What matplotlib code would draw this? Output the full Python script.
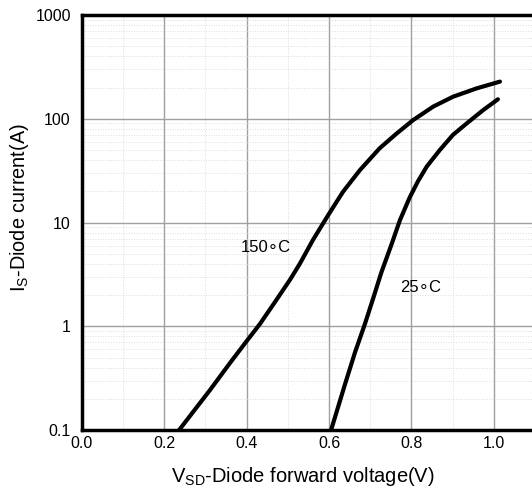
import matplotlib
matplotlib.use("Agg")
import matplotlib.pyplot as plt
from matplotlib.ticker import FixedLocator, MultipleLocator, LogLocator, NullFormatter

plt.rcParams['font.family'] = ['Liberation Sans', 'DejaVu Sans']
plt.rcParams['mathtext.fontset'] = 'custom'
plt.rcParams['mathtext.rm'] = 'Liberation Sans'
plt.rcParams['mathtext.it'] = 'Liberation Sans'

# 150 C curve (V, A)
v_150 = [0.236, 0.311, 0.359, 0.400, 0.432, 0.472, 0.505, 0.529, 0.561, 0.598,
         0.634, 0.675, 0.723, 0.764, 0.804, 0.853, 0.901, 0.958, 1.015]
i_150 = [0.1, 0.243, 0.44, 0.72, 1.05, 1.79, 2.8, 4.0, 6.8, 11.8,
         19.8, 32.0, 52.0, 72.0, 97.0, 131.0, 163.0, 196.0, 228.0]
# 25 C curve
v_25 = [0.605, 0.638, 0.663, 0.687, 0.707, 0.727, 0.752, 0.772, 0.796, 0.816,
        0.837, 0.869, 0.901, 0.934, 0.974, 1.010]
i_25 = [0.1, 0.27, 0.56, 1.05, 1.85, 3.3, 6.2, 10.5, 17.5, 25.0,
        34.5, 50.0, 70.0, 90.0, 121.0, 154.0]

x_ticks = [0.0, 0.2, 0.4, 0.6, 0.8, 1.0]
y_ticks = [0.1, 1, 10, 100, 1000]
y_labels = ['0.1', '1', '10', '100', '1000']


def main():
    fig = plt.figure(figsize=(5.32, 4.90), dpi=100)
    ax = fig.add_axes([0.154, 0.1224, 0.929, 0.847])

    for v, i in [(v_150, i_150), (v_25, i_25)]:
        ax.plot(v, i, color='black', lw=3, solid_capstyle='round', solid_joinstyle='round')

    ax.set_yscale('log')
    ax.set_xlim(0, 1.2)
    ax.set_ylim(0.1, 1000)

    ax.xaxis.set_major_locator(FixedLocator(x_ticks))
    ax.set_xticklabels([f"{x:.1f}" for x in x_ticks])
    ax.xaxis.set_minor_locator(MultipleLocator(0.1))
    ax.yaxis.set_major_locator(FixedLocator(y_ticks))
    ax.set_yticklabels(y_labels)
    ax.yaxis.set_minor_locator(LogLocator(base=10, subs=range(2, 10)))
    ax.yaxis.set_minor_formatter(NullFormatter())

    ax.tick_params(which='both', length=0, labelsize=11.5)
    ax.tick_params(axis='x', pad=4)
    ax.tick_params(axis='y', pad=8)

    ax.grid(which='major', color='#a0a0a0', lw=1)
    ax.grid(which='minor', color='#dcdcdc', lw=0.7, ls=':')
    ax.set_axisbelow(True)

    for s in ax.spines.values():
        s.set_linewidth(2.5)
        s.set_color('black')

    ax.text(0.447, 5.7, "150\u2218C", fontsize=12, ha='center', va='center')
    ax.text(0.823, 2.34, "25\u2218C", fontsize=12, ha='center', va='center')

    ax.set_xlabel(r"$\mathregular{V_{SD}}$-Diode forward voltage(V)", fontsize=14.5)
    ax.set_ylabel(r"$\mathregular{I_S}$-Diode current(A)", fontsize=14.3)
    ax.xaxis.set_label_coords(0.447, -0.085)
    ax.yaxis.set_label_coords(-0.103, 0.537)

    plt.savefig("out.png", dpi=100)


if __name__ == "__main__":
    main()
